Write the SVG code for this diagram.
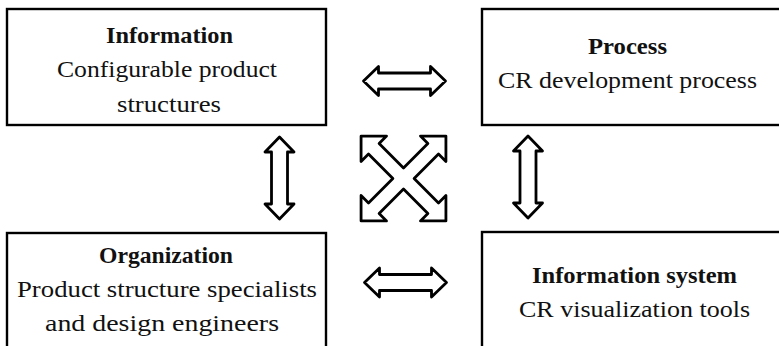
<svg xmlns="http://www.w3.org/2000/svg" xmlns:xlink="http://www.w3.org/1999/xlink" width="779" height="346" viewBox="0 0 779 346">
  <style>
    .box { fill: #fff; stroke: #000; stroke-width: 2.4; }
    .arrow { fill: #fff; stroke: #000; stroke-width: 2.8; stroke-linejoin: round; }
    .lbl { font-family: "Liberation Serif", "Times New Roman", serif; font-size: 24px; fill: #111; text-anchor: middle; }
    .title { font-weight: bold; }
  </style>
  <defs>
    <!-- double-headed block arrow, centred on the origin -->
    <path id="dbl" d="M -41,0 L -26,-14.5 L -26,-8 L 26,-8 L 26,-14.5 L 41,0 L 26,14.5 L 26,8 L -26,8 L -26,14.5 Z"/>
  </defs>

  <g id="information">
    <rect class="box" x="7" y="9" width="319" height="116"/>
    <text class="lbl title" x="169.5" y="43" textLength="127" lengthAdjust="spacingAndGlyphs">Information</text>
    <text class="lbl" x="167" y="77" textLength="220" lengthAdjust="spacingAndGlyphs">Configurable product</text>
    <text class="lbl" x="169" y="112" textLength="104" lengthAdjust="spacingAndGlyphs">structures</text>
  </g>

  <g id="process">
    <rect class="box" x="482" y="9" width="330" height="116"/>
    <text class="lbl title" x="627.5" y="54" textLength="79" lengthAdjust="spacingAndGlyphs">Process</text>
    <text class="lbl" x="627.5" y="88" textLength="259" lengthAdjust="spacingAndGlyphs">CR development process</text>
  </g>

  <g id="organization">
    <rect class="box" x="7" y="233" width="319" height="150"/>
    <text class="lbl title" x="166" y="263" textLength="134" lengthAdjust="spacingAndGlyphs">Organization</text>
    <text class="lbl" x="167" y="297" textLength="300" lengthAdjust="spacingAndGlyphs">Product structure specialists</text>
    <text class="lbl" x="162" y="331" textLength="234" lengthAdjust="spacingAndGlyphs">and design engineers</text>
  </g>

  <g id="information-system">
    <rect class="box" x="482" y="232" width="340" height="150"/>
    <text class="lbl title" x="634.5" y="283" textLength="205" lengthAdjust="spacingAndGlyphs">Information system</text>
    <text class="lbl" x="634.5" y="317" textLength="231" lengthAdjust="spacingAndGlyphs">CR visualization tools</text>
  </g>

  <g id="connectors">
    <use class="arrow" xlink:href="#dbl" transform="translate(404.5,81)"/>
    <use class="arrow" xlink:href="#dbl" transform="translate(405.5,282.5)"/>
    <use class="arrow" xlink:href="#dbl" transform="translate(279.5,178) rotate(90)"/>
    <use class="arrow" xlink:href="#dbl" transform="translate(528,177) rotate(90)"/>
    <!-- crossed diagonal arrows linking opposite corners -->
    <path class="arrow" transform="translate(403.5,178.5) rotate(45)" d="M 60,0 L 42,18 L 42,7.5 L 7.5,7.5 L 7.5,42 L 18,42 L 0,60 L -18,42 L -7.5,42 L -7.5,7.5 L -42,7.5 L -42,18 L -60,0 L -42,-18 L -42,-7.5 L -7.5,-7.5 L -7.5,-42 L -18,-42 L 0,-60 L 18,-42 L 7.5,-42 L 7.5,-7.5 L 42,-7.5 L 42,-18 Z"/>
  </g>
</svg>
